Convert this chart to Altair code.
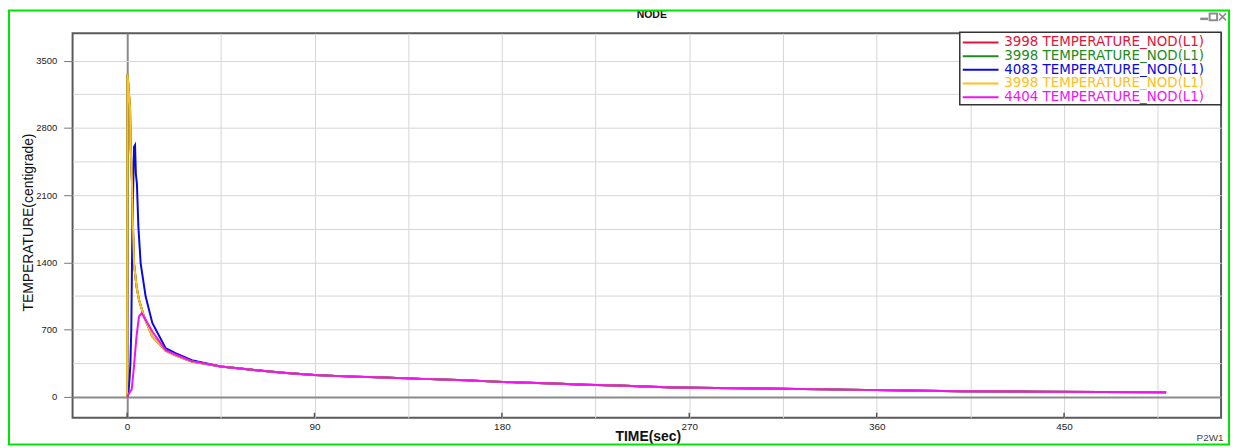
import altair as alt
import pandas as pd

W, H = 1156, 387

series_keys = ["n3998a", "n3998b", "n4083", "n3998c", "n4404"]
series_labels = ["3998 TEMPERATURE_NOD(L1)", "3998 TEMPERATURE_NOD(L1)",
                 "4083 TEMPERATURE_NOD(L1)", "3998 TEMPERATURE_NOD(L1)",
                 "4404 TEMPERATURE_NOD(L1)"]
series_colors = ["#E2143C", "#1E8C1E", "#0A0ADC", "#FFC020", "#F014F0"]

# early transient (sec, centigrade)
n3998_time = [0, 0.2, 1.4, 1.7, 2.3, 2.6, 3.3, 4.5, 5.7, 8.1, 12, 18.5, 23.2, 31]
n3998_temp = [0, 3360, 3000, 2600, 2250, 1940, 1390, 1150, 1010, 836, 630, 480, 432, 366]
n4083_time = [0, 0.6, 1.2, 1.6, 2.0, 2.5, 3.3, 3.8, 4.2, 4.7, 5.4, 6.5, 8.9, 12.1, 18.5, 23.2, 31]
n4083_temp = [0, 30, 200, 360, 700, 1730, 2600, 2620, 2320, 2220, 1770, 1390, 1043, 768, 505, 455, 380]
n4404_time = [0, 0.5, 2.2, 3.3, 4.5, 5.7, 7.0, 8.9, 12.1, 18.5, 23.2, 31]
n4404_temp = [0, 20, 77, 319, 629, 836, 871, 802, 680, 485, 440, 371]

# common cooling tail
tail_time = [45, 60, 75, 90, 105, 120, 142, 163, 174, 189, 205, 220, 236, 252,
             263, 283, 314, 345, 375, 400, 437, 499]
tail_temp = [315, 280, 250, 226, 212, 203, 186, 172, 160, 148, 138, 126, 117, 105,
             97, 92, 84, 74, 64, 58, 52, 46]

x_ticks = list(range(0, 500, 45))
x_labels = [0, 90, 180, 270, 360, 450]
y_ticks = list(range(0, 3501, 350))

series_data = {
    "n3998a": (n3998_time, n3998_temp),
    "n3998b": (n3998_time, n3998_temp),
    "n4083": (n4083_time, n4083_temp),
    "n3998c": (n3998_time, n3998_temp),
    "n4404": (n4404_time, n4404_temp),
}
rows = []
for key in series_keys:
    ts, vs = series_data[key]
    for t, v in zip(ts + tail_time, vs + tail_temp):
        rows.append({"key": key, "t": t, "v": v})
df = pd.DataFrame(rows)

xscale = alt.Scale(domain=[-26.2, 525.4], nice=False, zero=False)
yscale = alt.Scale(domain=[-219, 3786], nice=False, zero=False)
cscale = alt.Scale(domain=series_keys, range=series_colors)

zero_test = "datum.value === 0"
FONT = "Liberation Sans"

xaxis = alt.Axis(
    values=x_ticks, format="d",
    labelExpr="datum.value % 90 === 0 ? datum.label : ''",
    ticks=False, domain=False, grid=True,
    gridColor={"condition": {"test": zero_test, "value": "#8a8a8a"}, "value": "#d6d6d6"},
    gridWidth={"condition": {"test": zero_test, "value": 2}, "value": 1},
    labelFont=FONT, labelFontSize=10, labelColor="#222", labelPadding=4,
    labelFlush=False, labelOverlap=False,
    title="TIME(sec)", titleFont=FONT, titleFontSize=14, titleFontWeight="bold",
    titleColor="#111", titleX=579, titleY=19, titleAlign="center", titleBaseline="middle",
)
yaxis = alt.Axis(
    values=y_ticks, format="d",
    labelExpr="datum.value % 700 === 0 ? datum.label : ''",
    domain=False, grid=True,
    gridColor={"condition": {"test": zero_test, "value": "#8a8a8a"}, "value": "#d6d6d6"},
    gridWidth={"condition": {"test": zero_test, "value": 2}, "value": 1},
    ticks=True, tickSize=9, tickColor="#777",
    tickOpacity={"condition": {"test": "datum.value % 700 === 0", "value": 1}, "value": 0},
    labelFont=FONT, labelFontSize=9.5, labelColor="#222", labelPadding=7,
    labelOverlap=False,
    title="TEMPERATURE(centigrade)", titleFont=FONT, titleFontSize=14,
    titleFontWeight="normal", titleColor="#111", titleAngle=270,
    titleX=-44, titleY=190, titleAlign="center", titleBaseline="middle",
)

layers = []
for key in series_keys:
    layers.append(
        alt.Chart(df).transform_filter(alt.datum.key == key)
        .mark_line(strokeWidth=2, clip=True)
        .encode(
            x=alt.X("t:Q", scale=xscale, axis=xaxis),
            y=alt.Y("v:Q", scale=yscale, axis=yaxis),
            color=alt.Color("key:N", scale=cscale, legend=None),
        )
    )

# inward ticks at labelled times
layers.append(
    alt.Chart(pd.DataFrame({"t": x_labels})).mark_rule(color="#555", strokeWidth=1.5)
    .encode(x=alt.X("t:Q", scale=xscale, axis=xaxis), y=alt.value(H - 5), y2=alt.value(H))
)

one = pd.DataFrame({"k": [0]})

# legend box
layers.append(
    alt.Chart(one).mark_rect(fill="white", stroke="#333", strokeWidth=1.5)
    .encode(x=alt.value(893), x2=alt.value(1156), y=alt.value(-1), y2=alt.value(72))
)
row_y0, row_dy = 9.3, 13.75
for i, (lab, col) in enumerate(zip(series_labels, series_colors)):
    yy = row_y0 + row_dy * i
    layers.append(
        alt.Chart(one).mark_rule(color=col, strokeWidth=2)
        .encode(x=alt.value(896), x2=alt.value(932), y=alt.value(yy))
    )
    layers.append(
        alt.Chart(pd.DataFrame({"label": [lab]}))
        .mark_text(align="left", baseline="middle", font="DejaVu Sans", fontSize=13.5, color=col)
        .encode(x=alt.value(937.7), y=alt.value(yy), text="label:N")
    )

# title
layers.append(
    alt.Chart(pd.DataFrame({"txt": ["NODE"]}))
    .mark_text(align="center", baseline="middle", font=FONT, fontSize=10.5,
               fontWeight="bold", color="#111")
    .encode(x=alt.value(583), y=alt.value(-18), text="txt:N")
)
# footer id
layers.append(
    alt.Chart(pd.DataFrame({"txt": ["P2W1"]}))
    .mark_text(align="center", baseline="middle", font=FONT, fontSize=10, color="#444")
    .encode(x=alt.value(1145), y=alt.value(407), text="txt:N")
)
# window icons
gray = "#8c8c8c"
layers.append(alt.Chart(one).mark_rule(color=gray, strokeWidth=2.5)
              .encode(x=alt.value(1135), x2=alt.value(1143), y=alt.value(-14.5)))
layers.append(alt.Chart(one).mark_rect(fillOpacity=0, stroke=gray, strokeWidth=2)
              .encode(x=alt.value(1144.5), x2=alt.value(1152), y=alt.value(-20), y2=alt.value(-13)))
layers.append(alt.Chart(one).mark_rule(color=gray, strokeWidth=1.6)
              .encode(x=alt.value(1154), x2=alt.value(1161), y=alt.value(-20), y2=alt.value(-13)))
layers.append(alt.Chart(one).mark_rule(color=gray, strokeWidth=1.6)
              .encode(x=alt.value(1154), x2=alt.value(1161), y=alt.value(-13), y2=alt.value(-20)))
# green frame
layers.append(alt.Chart(one).mark_rect(fillOpacity=0, stroke="#00E600", strokeWidth=2)
              .encode(x=alt.value(-64), x2=alt.value(1164), y=alt.value(-23), y2=alt.value(414)))

chart = (
    alt.layer(*layers)
    .properties(
        width=W, height=H,
        padding={"left": 65, "top": 24, "right": 10, "bottom": 29},
        autosize=alt.AutoSizeParams(type="none"),
        background="white",
    )
    .configure_view(stroke="#5a5a5a", strokeWidth=2)
)

chart.save("out.html", embed_options={"renderer": "svg", "actions": False})
